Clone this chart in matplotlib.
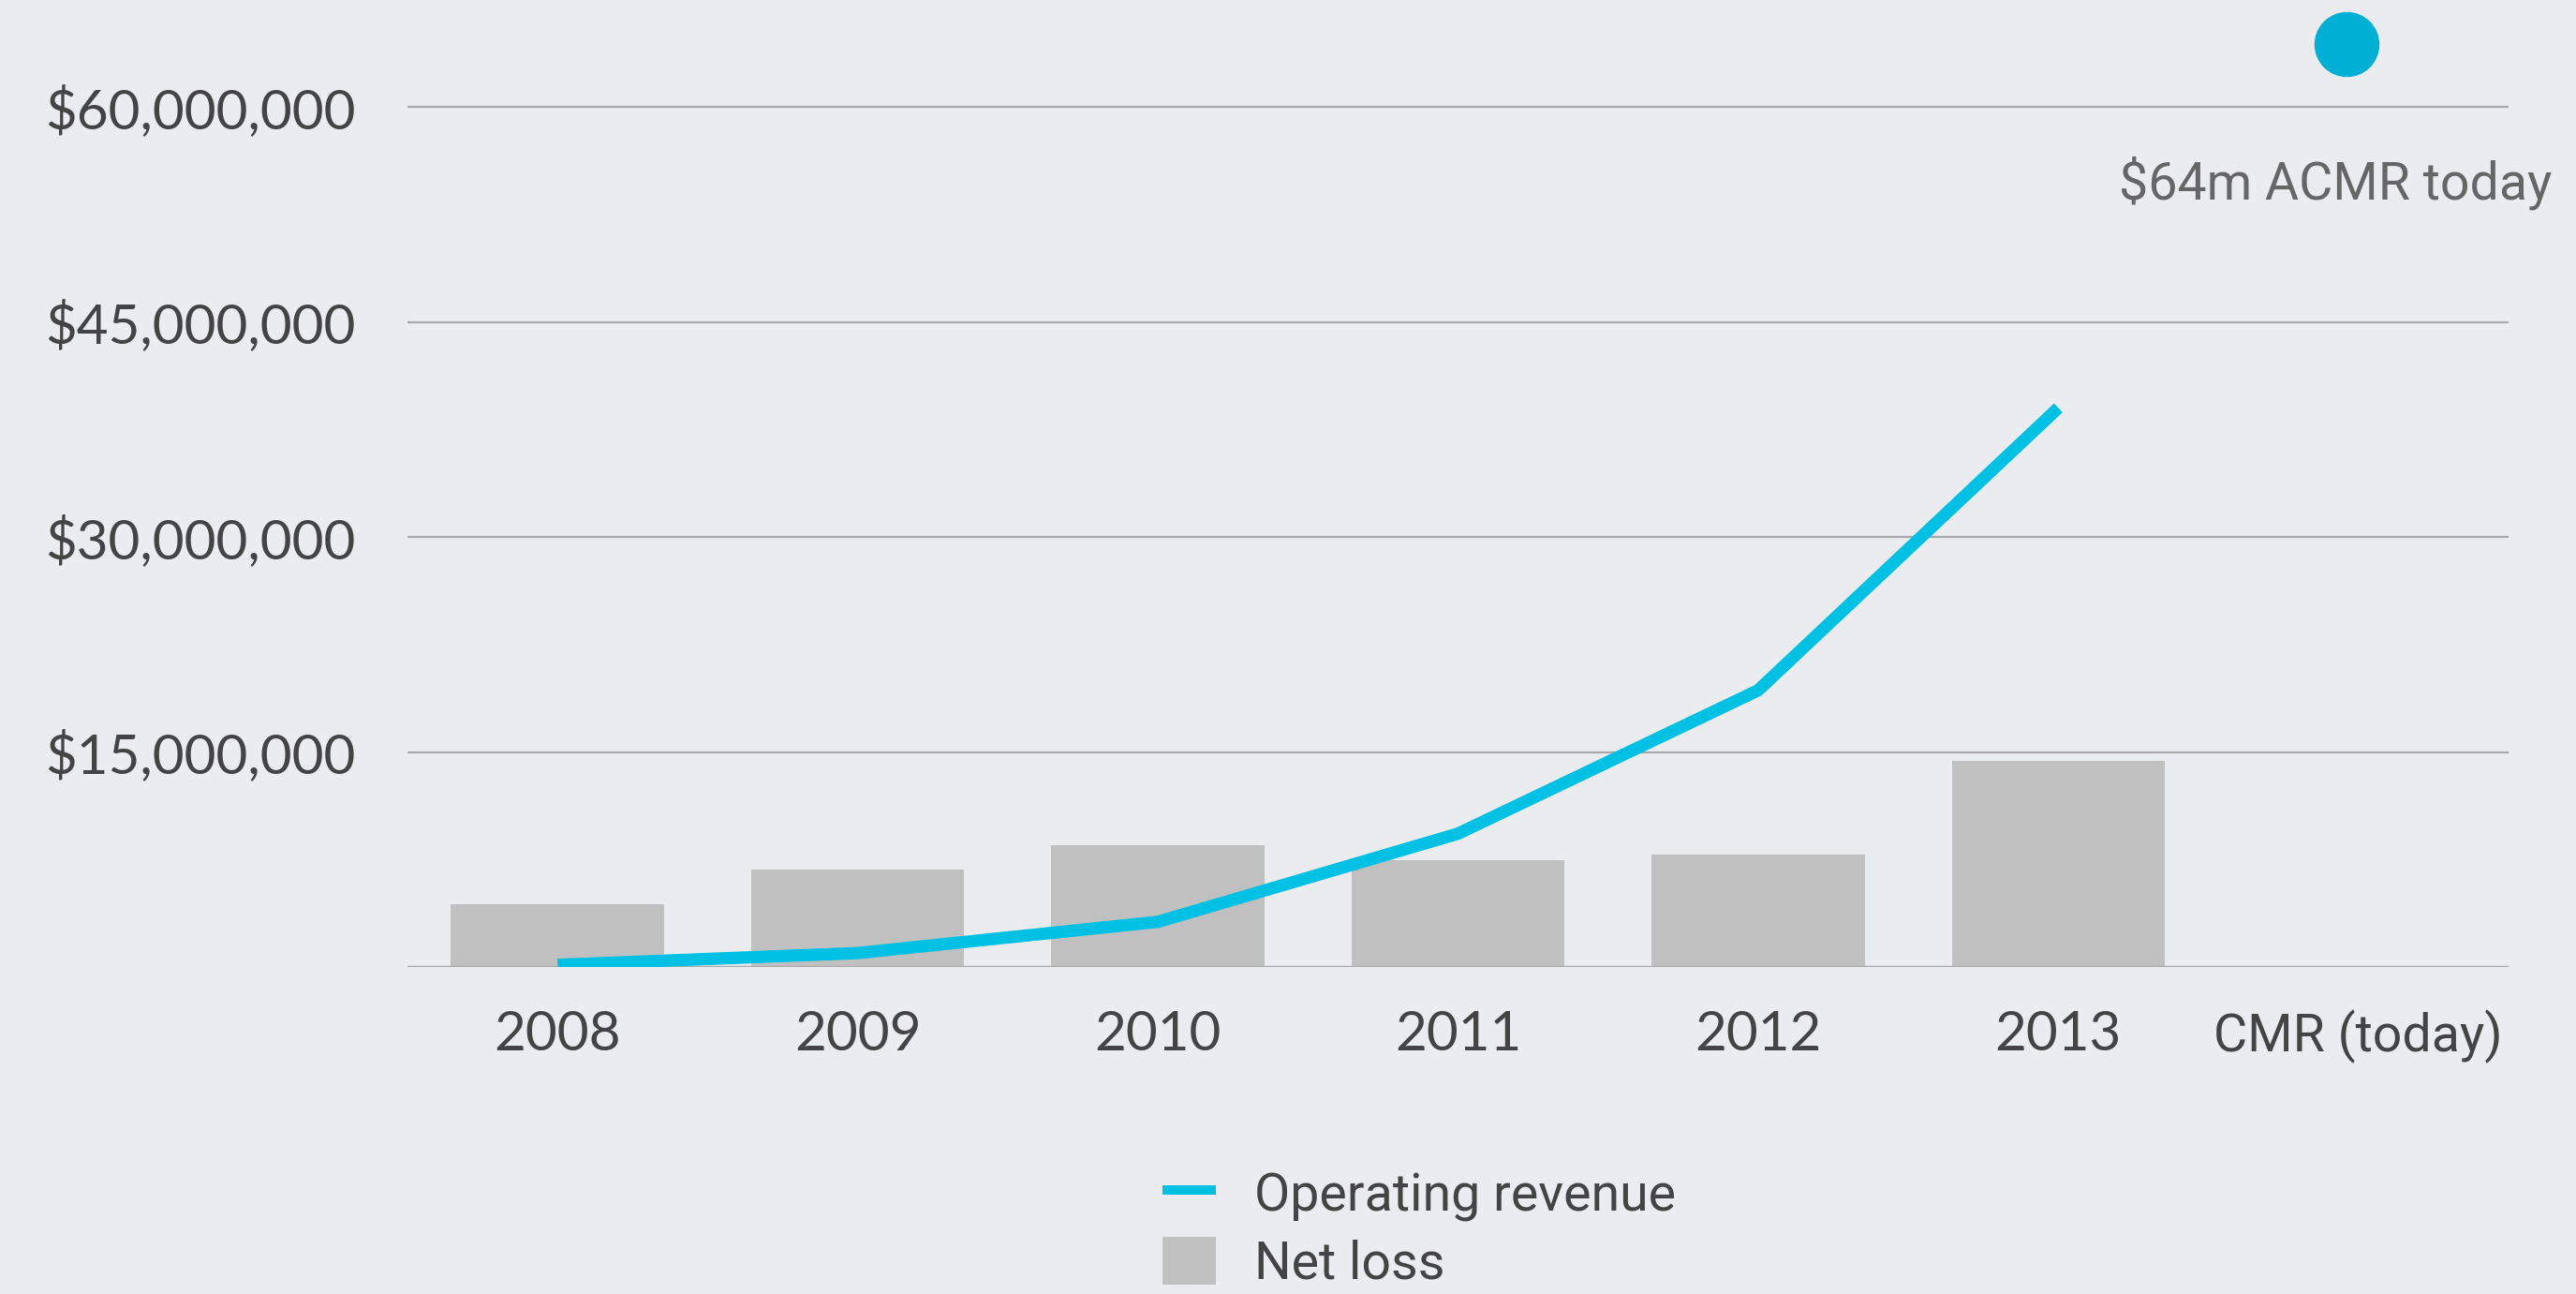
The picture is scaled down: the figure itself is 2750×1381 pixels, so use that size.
import matplotlib.pyplot as plt
from matplotlib.lines import Line2D
from matplotlib.patches import Patch

# data
years = ['2008', '2009', '2010', '2011', '2012', '2013', 'CMR (today)']
net_loss = [4.36e6, 6.78e6, 8.48e6, 7.45e6, 7.84e6, 14.38e6]
revenue = [0.15e6, 0.97e6, 3.15e6, 9.3e6, 19.3e6, 39.0e6]
acmr_today = 64.4e6
y_ticks = [0, 15e6, 30e6, 45e6, 60e6]

bg = '#EBECF0'
blue = '#00C0E4'
dot_blue = '#00AFD4'
bar_grey = '#C0C0C0'
grid_grey = '#A9A9A9'
text_dark = '#444444'

fig = plt.figure(figsize=(27.5, 13.81), dpi=100, facecolor=bg)
ax = fig.add_axes([435 / 2750, 1 - 1032 / 1381, 2243 / 2750, 1032 / 1381])
ax.set_facecolor(bg)

x = list(range(len(years)))

# bars and line
ax.bar(x[:len(net_loss)], net_loss, width=0.71, color=bar_grey, zorder=2)
ax.plot(x[:len(revenue)], revenue, color=blue, linewidth=9.5, solid_capstyle='butt',
        solid_joinstyle='miter', zorder=3)
ax.plot([x[-1] - 0.04], [acmr_today], 'o', color=dot_blue, markersize=50,
        markeredgewidth=0, clip_on=False, zorder=4)

ax.set_xlim(-0.5, len(years) - 0.5)
ax.set_ylim(0, 1032 / 229.5 * 15e6)

ax.set_xticks(x)
ax.set_xticklabels(years, fontsize=42, color=text_dark, family='Lato')
ax.get_xticklabels()[-1].set_fontfamily('Roboto')
ax.get_xticklabels()[-1].set_fontsize(40)
ax.set_yticks(y_ticks)
ax.set_yticklabels([''] + [f'${v:,.0f}' for v in y_ticks[1:]], fontsize=42,
                   color=text_dark, family='Lato')
ax.tick_params(axis='both', length=0)
ax.tick_params(axis='x', pad=33)
ax.tick_params(axis='y', pad=40)

ax.yaxis.grid(True, color=grid_grey, linewidth=1.6, zorder=1)
ax.set_axisbelow(True)
for s in ax.spines.values():
    s.set_visible(False)
# baseline over the bars
ax.axhline(0, color=grid_grey, linewidth=1.6, zorder=2.5)

fig.text(2724 / 2750, 1 - 212 / 1381, '$64m ACMR today', ha='right', va='baseline',
         fontsize=40, color='#666666', family='Roboto')

# legend
handles = [Line2D([], [], color=blue, linewidth=7.2, solid_capstyle='butt'),
           Patch(facecolor=bar_grey, edgecolor='none')]
leg = fig.legend(handles, ['Operating revenue', 'Net loss'], loc='upper left',
                 bbox_to_anchor=(1241 / 2750, 1 - 1248 / 1381), frameon=False,
                 borderpad=0, borderaxespad=0, handlelength=1.02, handleheight=1.02,
                 handletextpad=0.75, labelspacing=0.3,
                 prop={'family': 'Roboto', 'size': 40})
for t in leg.get_texts():
    t.set_color(text_dark)

plt.savefig('out.png', facecolor=bg)
